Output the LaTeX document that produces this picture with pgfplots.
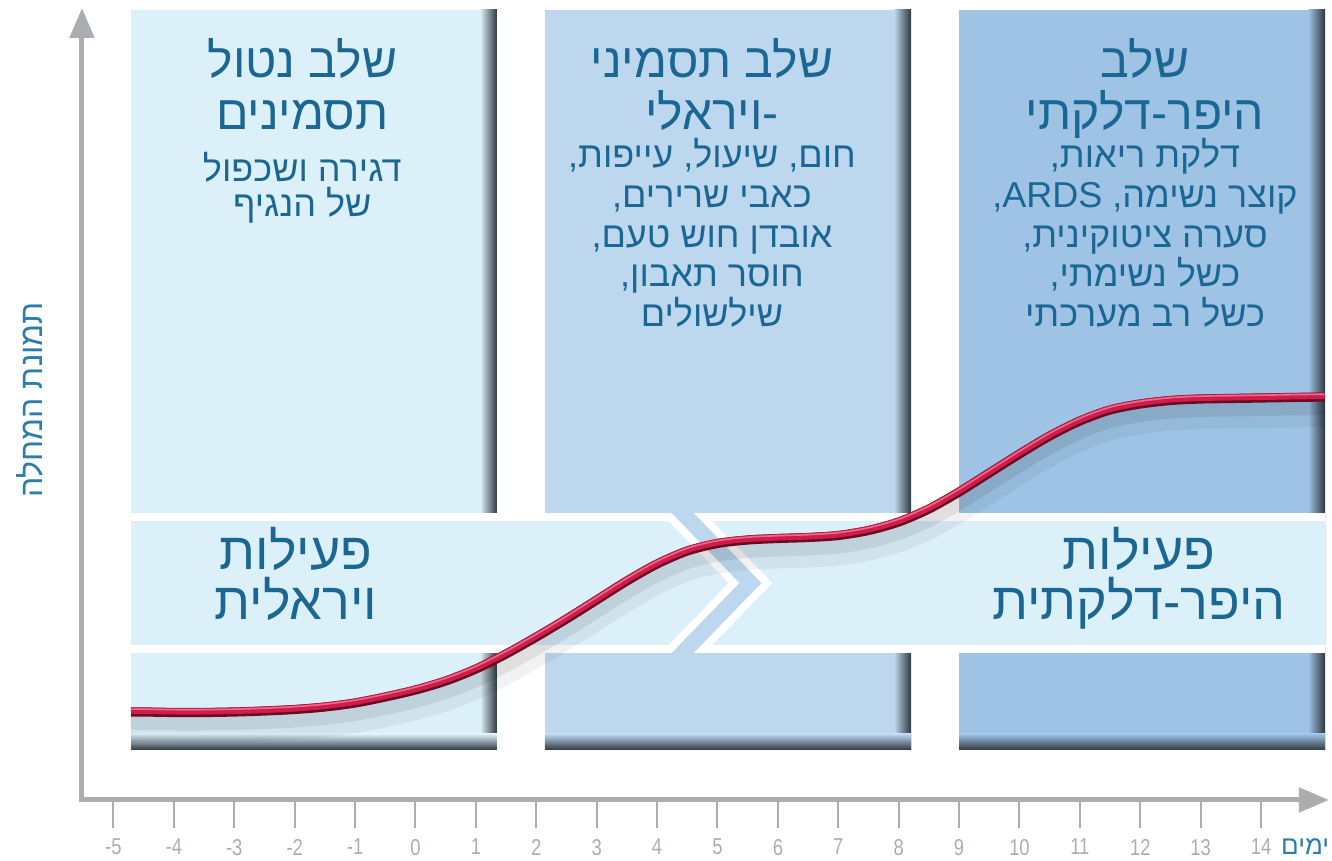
\documentclass[border=0pt]{standalone}
\usepackage{pgfplots}
\pgfplotsset{compat=1.18}
\usepackage{fontspec}
\usetikzlibrary{arrows.meta}
\TeXXeTstate=1
\setmainfont{Liberation Sans}
\newfontfamily\hebfont[Script=Hebrew]{Liberation Sans}
\newfontfamily\tickfont[FakeStretch=0.8]{Liberation Sans}
\definecolor{boxA}{HTML}{DCF0FA}
\definecolor{boxB}{HTML}{BDD7EE}
\definecolor{boxC}{HTML}{9EC3E5}
\definecolor{shadecol}{HTML}{2E3740}
\definecolor{txt}{HTML}{1A6794}
\definecolor{ylab}{HTML}{2A7DAD}
\definecolor{axgray}{HTML}{ABADB0}
\definecolor{tickgray}{HTML}{A9AEB5}
\definecolor{curvered}{HTML}{CF1D4B}
\definecolor{curvedark}{HTML}{6A0B23}
\definecolor{curvelight}{HTML}{EC6A8A}
\pgfplotstableread{
d v
-4.71 88
-4.5 88
-4 87.5
-3.5 87.5
-3 88
-2.5 89
-2 90.5
-1.5 93
-1 97
-0.5 103
0 110
0.5 119
1 131
1.5 146
2 163
2.5 181
3 200
3.5 219
4 236
4.5 249
5 256.5
5.5 260
6 261.5
6.5 262.5
7 264.5
7.5 269.5
8 278
8.5 291
9 308
9.5 327
10 346
10.5 364
11 379
11.5 390
12 396
12.5 399.5
13 401
13.5 401.5
14 402
14.5 402.5
15.05 403
}\curve
\begin{document}
\begin{tikzpicture}
\begin{axis}[
  scale only axis, width=623.5pt, height=396pt,
  xmin=-5.5215, xmax=15.124, ymin=0, ymax=792,
  axis lines=left,
  axis line style={draw=axgray, line width=2.5pt, line cap=rect, -{Triangle[length=15pt,width=12pt]}},
  xtick={-5,...,14}, ytick=\empty,
  tick align=outside, major tick length=14pt,
  tick style={draw=axgray, line width=1pt},
  /pgf/number format/assume math mode=true,
  xticklabel style={font=\tickfont\fontsize{11.5}{11.5}\selectfont, text=tickgray, anchor=north, yshift=-2pt},
  clip=false,
]
\coordinate (BL) at (axis cs:-6.879,-61);
\coordinate (TR) at (axis cs:15.174,800);
% boxes
\fill[boxA] (axis cs:-4.71,50) rectangle (axis cs:1.349,790);
\shade[left color=boxA, right color=shadecol] (axis cs:1.07,50) rectangle (axis cs:1.349,790);
\shade[top color=boxA, bottom color=shadecol] (axis cs:-4.71,50) rectangle (axis cs:1.349,66);
\fill[boxB] (axis cs:2.144,50) rectangle (axis cs:8.204,790);
\shade[left color=boxB, right color=shadecol] (axis cs:7.925,50) rectangle (axis cs:8.204,790);
\shade[top color=boxB, bottom color=shadecol] (axis cs:2.144,50) rectangle (axis cs:8.204,66);
\fill[boxC] (axis cs:9.0,50) rectangle (axis cs:15.058,790);
\shade[left color=boxC, right color=shadecol] (axis cs:14.78,50) rectangle (axis cs:15.058,790);
\shade[top color=boxC, bottom color=shadecol] (axis cs:9.0,50) rectangle (axis cs:15.058,66);
% band
\fill[boxA] (axis cs:-4.71,283) -- (axis cs:4.214,283) -- (axis cs:5.273,217) -- (axis cs:4.214,151) -- (axis cs:-4.71,151) -- cycle;
\draw[white, line width=3.8pt, line join=miter] (axis cs:-4.71,283) -- (axis cs:4.214,283) -- (axis cs:5.273,217) -- (axis cs:4.214,151) -- (axis cs:-4.71,151);
\fill[boxA] (axis cs:4.760,283) -- (axis cs:15.058,283) -- (axis cs:15.058,151) -- (axis cs:4.760,151) -- (axis cs:5.820,217) -- cycle;
\draw[white, line width=3.8pt, line join=miter] (axis cs:15.058,283) -- (axis cs:4.760,283) -- (axis cs:5.820,217) -- (axis cs:4.760,151) -- (axis cs:15.058,151);
% texts
\begin{scope}[every node/.style={text=txt, anchor=base, inner sep=0pt}]
\node[font=\hebfont\fontsize{24}{24}\selectfont] at (axis cs:-1.874,722) {\beginR שלב נטול\endR};
\node[font=\hebfont\fontsize{24}{24}\selectfont] at (axis cs:-1.874,670) {\beginR תסמינים\endR};
\node[font=\hebfont\fontsize{18}{18}\selectfont] at (axis cs:-1.874,618) {\beginR דגירה ושכפול\endR};
\node[font=\hebfont\fontsize{18}{18}\selectfont] at (axis cs:-1.874,583) {\beginR של הנגיף\endR};
\node[font=\hebfont\fontsize{24}{24}\selectfont] at (axis cs:4.909,722) {\beginR שלב תסמיני\endR};
\node[font=\hebfont\fontsize{24}{24}\selectfont] at (axis cs:4.909,670) {\beginR ויראלי\endR-};
\node[font=\hebfont\fontsize{18}{18}\selectfont] at (axis cs:4.909,632) {\beginR חום, שיעול, עייפות,\endR};
\node[font=\hebfont\fontsize{18}{18}\selectfont] at (axis cs:4.909,592) {\beginR כאבי שרירים,\endR};
\node[font=\hebfont\fontsize{18}{18}\selectfont] at (axis cs:4.909,552) {\beginR אובדן חוש טעם,\endR};
\node[font=\hebfont\fontsize{18}{18}\selectfont] at (axis cs:4.909,513) {\beginR חוסר תאבון,\endR};
\node[font=\hebfont\fontsize{18}{18}\selectfont] at (axis cs:4.909,473) {\beginR שילשולים\endR};
\node[font=\hebfont\fontsize{24}{24}\selectfont] at (axis cs:12.078,722) {\beginR שלב\endR};
\node[font=\hebfont\fontsize{24}{24}\selectfont] at (axis cs:12.078,670) {\beginR היפר-דלקתי\endR};
\node[font=\hebfont\fontsize{18}{18}\selectfont] at (axis cs:12.078,632) {\beginR דלקת ריאות,\endR};
\node[font=\hebfont\fontsize{18}{18}\selectfont] at (axis cs:12.078,592) {\beginR קוצר נשימה, \beginL ARDS\endL,\endR};
\node[font=\hebfont\fontsize{18}{18}\selectfont] at (axis cs:12.078,552) {\beginR סערה ציטוקינית,\endR};
\node[font=\hebfont\fontsize{18}{18}\selectfont] at (axis cs:12.078,513) {\beginR כשל נשימתי,\endR};
\node[font=\hebfont\fontsize{18}{18}\selectfont] at (axis cs:12.078,473) {\beginR כשל רב מערכתי\endR};
\node[font=\hebfont\fontsize{26}{26}\selectfont] at (axis cs:-1.978,230) {\beginR פעילות\endR};
\node[font=\hebfont\fontsize{26}{26}\selectfont] at (axis cs:-1.978,180) {\beginR ויראלית\endR};
\node[font=\hebfont\fontsize{26}{26}\selectfont] at (axis cs:11.98,230) {\beginR פעילות\endR};
\node[font=\hebfont\fontsize{26}{26}\selectfont] at (axis cs:11.98,180) {\beginR היפר-דלקתית\endR};
\node[font=\hebfont\fontsize{13}{13}\selectfont, text=ylab] at (axis cs:14.73,-55) {\beginR ימים\endR};
\node[font=\hebfont\fontsize{16}{16}\selectfont, text=ylab, rotate=90, anchor=center] at (axis cs:-6.382,400) {\beginR תמונת המחלה\endR};
\end{scope}
% curve
\addplot[smooth, draw=black, opacity=0.05, line width=14pt, yshift=-8pt] table[x=d,y=v] {\curve};
\addplot[smooth, draw=black, opacity=0.08, line width=8pt, yshift=-5pt] table[x=d,y=v] {\curve};
\addplot[smooth, draw=curvedark, line width=4.6pt] table[x=d,y=v] {\curve};
\addplot[smooth, draw=curvered, line width=3.2pt, yshift=0.6pt] table[x=d,y=v] {\curve};
\addplot[smooth, draw=curvelight, line width=0.8pt, yshift=1.4pt] table[x=d,y=v] {\curve};
\end{axis}
\pgfresetboundingbox
\path[use as bounding box] (BL) rectangle (TR);
\end{tikzpicture}
\end{document}
